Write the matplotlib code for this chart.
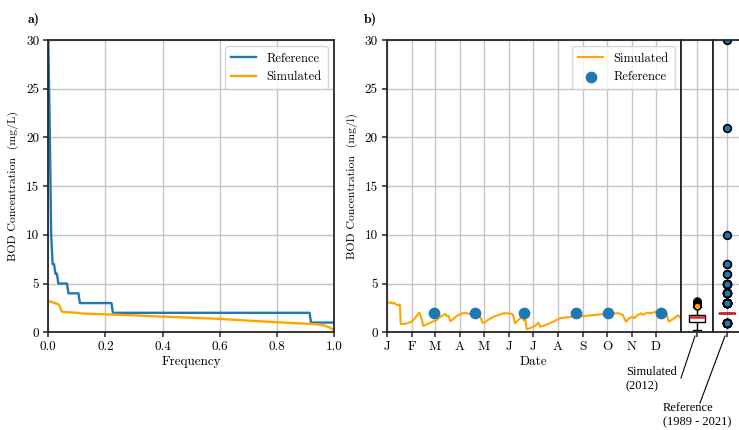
import numpy as np
import matplotlib
matplotlib.use('Agg')
from matplotlib import pyplot as plt

plt.rcParams['font.family'] = ['cmr10', 'DejaVu Serif']
plt.rcParams['mathtext.fontset'] = 'cm'
plt.rcParams['axes.formatter.use_mathtext'] = False

# observed BOD values 1989-2021 and how often each one occurs
ref_values = [30, 21, 10, 7, 6, 5, 4, 3, 2, 1]
ref_counts = [1, 1, 1, 2, 2, 7, 8, 23, 138, 17]

# simulated duration curve
sim_freq = [0.0, 0.018, 0.035, 0.041, 0.045, 0.053, 0.088, 0.123, 0.18, 0.30,
            0.41, 0.53, 0.60, 0.65, 0.76, 0.82, 0.88, 0.94, 0.968, 0.986, 1.0]
sim_sorted = [3.2, 3.05, 2.88, 2.64, 2.19, 2.08, 2.02, 1.92, 1.86, 1.74,
              1.6, 1.46, 1.38, 1.28, 1.1, 1.0, 0.92, 0.82, 0.68, 0.48, 0.22]

# simulated daily series 2012 (day of year, mg/l)
sim_day = [0, 3, 5, 6, 8, 10, 12, 14, 15.5, 16.5, 17.4, 21.5, 24, 27.7, 31, 34, 38, 40.5,
           42, 44, 45.5, 50.5, 56, 62, 67, 70, 73, 75, 77, 79, 82, 86, 90, 94, 99, 102.4,
           106.5, 109, 112, 114, 117, 119, 122, 126, 133, 140, 145, 150, 155.5, 157, 159.6,
           163.7, 168, 170, 172, 174, 178, 184.5, 188.6, 190.7, 194.8, 207, 215.5, 224, 235,
           256, 277, 289, 293.5, 297.6, 301.7, 306, 308, 312, 316.3, 318, 324.6, 328, 335,
           339, 343.3, 346, 348, 350.7, 355.7, 360, 362, 365.5]
sim_bod = [3.15, 3.05, 2.98, 3.1, 2.95, 3.0, 2.85, 2.75, 2.85, 2.8, 0.85, 0.85, 0.9, 0.99,
           1.1, 1.33, 1.78, 2.02, 1.7, 1.2, 0.65, 0.85, 1.05, 1.25, 1.6, 1.75, 1.88, 1.64,
           1.7, 1.15, 1.3, 1.6, 1.8, 1.95, 1.98, 1.88, 2.0, 1.85, 1.88, 1.8, 1.5, 0.99, 1.0,
           1.27, 1.6, 1.8, 1.95, 1.95, 1.9, 1.8, 0.92, 1.26, 1.6, 1.26, 1.44, 0.31, 0.41,
           0.65, 0.99, 0.58, 0.65, 1.09, 1.44, 1.54, 1.6, 1.75, 1.95, 1.95, 1.78, 1.09, 1.44,
           1.6, 1.45, 1.78, 1.95, 1.8, 2.02, 1.95, 2.12, 2.0, 2.12, 2.1, 1.9, 1.09, 1.33, 1.6,
           1.75, 1.5]

# reference samples taken in the year
ref_day = [59, 110, 171, 236, 275, 341]
ref_bod = [2.0, 2.0, 2.0, 2.0, 2.0, 2.0]

# box statistics of the simulated series (fliers listed top first)
sim_box = dict(med=1.6, q1=1.1, q3=1.78, whislo=0.25, whishi=2.55,
               fliers=[3.2, 3.16, 3.12, 3.08, 3.04, 3.0, 2.96, 2.92, 2.88, 2.84, 2.8, 2.72])

month_days = [0, 31, 60, 91, 121, 152, 182, 213, 244, 274, 305, 335]
month_labels = ['J', 'F', 'M', 'A', 'M', 'J', 'J', 'A', 'S', 'O', 'N', 'D']

BLUE = '#1f77b4'
ORANGE = '#ffa500'
SPINE = '#262626'
GRID = '#c4c4c4'
FS = 9.5
LFS = 9

W, H = 739, 430
fig = plt.figure(figsize=(W / 100, H / 100), dpi=100)


def px_axes(x0, x1, y_top, y_bot):
    return fig.add_axes([x0 / W, 1 - y_bot / H, (x1 - x0) / W, (y_bot - y_top) / H])


def style(ax):
    for s in ax.spines.values():
        s.set_color(SPINE)
        s.set_linewidth(1.3)
    ax.grid(True, color=GRID, linewidth=1.0)
    ax.set_axisbelow(True)
    ax.tick_params(labelsize=FS, length=3.5, width=1.1, color=SPINE, pad=3)


# ---- a) duration curves
ax1 = px_axes(48.3, 334, 40, 332.3)
style(ax1)
ref_all = np.repeat(ref_values, ref_counts)
ref_freq = np.arange(len(ref_all)) / (len(ref_all) - 1)
ax1.plot(ref_freq, ref_all, color=BLUE, lw=1.7, label='Reference')
ax1.plot(sim_freq, sim_sorted, color=ORANGE, lw=1.7, label='Simulated')
ax1.set_xlim(0, 1)
ax1.set_ylim(0, 30)
ax1.set_xticks(np.arange(0, 1.01, 0.2))
ax1.set_xticklabels([f'{v:.1f}' for v in np.arange(0, 1.01, 0.2)])
ax1.set_yticks(range(0, 31, 5))
ax1.set_xlabel('Frequency', fontsize=FS, labelpad=2)
ax1.set_ylabel('BOD Concentration  (mg/L)', fontsize=8.5, labelpad=5)
ax1.legend(loc='upper right', fontsize=LFS, handlelength=2.0, borderpad=0.5,
           labelspacing=0.5, handletextpad=0.8, framealpha=0.8)

# ---- b) time series
ax2 = px_axes(386.7, 681, 40, 332.3)
style(ax2)
ax2.plot(sim_day, sim_bod, color=ORANGE, lw=1.5, label='Simulated')
ax2.scatter(ref_day, ref_bod, s=55, color=BLUE, zorder=3, label='Reference')
ax2.set_xlim(0, 366)
ax2.set_ylim(0, 30)
ax2.set_xticks(month_days)
ax2.set_xticklabels(month_labels)
ax2.set_yticks(range(0, 31, 5))
ax2.set_xlabel('Date', fontsize=FS, labelpad=2)
ax2.set_ylabel('BOD Concentration  (mg/l)', fontsize=8.5, labelpad=5)
ax2.legend(loc='upper right', fontsize=LFS, handlelength=2.0, borderpad=0.5,
           labelspacing=0.5, handletextpad=0.8, framealpha=0.8)

# ---- box plots next to the time series
ax3 = px_axes(681, 713, 40, 332.3)
ax4 = px_axes(713, 741, 40, 332.3)
for ax in (ax3, ax4):
    style(ax)
    ax.set_ylim(0, 30)
    ax.set_yticks(range(0, 31, 5))
    ax.tick_params(axis='y', left=False, labelleft=False)

ax3.bxp([sim_box], widths=0.52, patch_artist=True,
        boxprops=dict(facecolor='white', edgecolor='black', linewidth=1.0),
        medianprops=dict(color='#d62728', linewidth=1.8),
        whiskerprops=dict(color='black', linewidth=1.0),
        capprops=dict(color='black', linewidth=1.0),
        flierprops=dict(marker='o', markerfacecolor=ORANGE, markeredgecolor='black',
                        markersize=5, markeredgewidth=1.1))

ax4.boxplot(ref_all, widths=0.55,
            medianprops=dict(color='#d62728', linewidth=1.8),
            boxprops=dict(color='black', linewidth=1.0),
            flierprops=dict(marker='o', markerfacecolor=BLUE, markeredgecolor='black',
                            markersize=5.5, markeredgewidth=1.2))
for ax in (ax3, ax4):
    ax.set_xlim(0.5, 1.5)
    ax.set_xticks([1])
    ax.set_xticklabels([''])

# annotations under the boxes
ann = dict(fontsize=9, family=['Liberation Serif', 'DejaVu Serif'])
fig.text(626 / W, 1 - 379 / H, 'Simulated\n(2012)', va='center', ha='left',
         linespacing=1.25, **ann)
fig.text(663 / W, 1 - 415 / H, 'Reference\n(1989 - 2021)', va='center', ha='left',
         linespacing=1.25, **ann)
fig.add_artist(plt.Line2D([681 / W, 695 / W], [1 - 378 / H, 1 - 336 / H],
                          color='black', lw=0.8))
fig.add_artist(plt.Line2D([700 / W, 725 / W], [1 - 403 / H, 1 - 336 / H],
                          color='black', lw=0.8))

# panel letters
fig.text(28 / W, 1 - 20 / H, 'a)', fontsize=10, va='center', family=['cmb10', 'DejaVu Serif'])
fig.text(364 / W, 1 - 20 / H, 'b)', fontsize=10, va='center', family=['cmb10', 'DejaVu Serif'])

fig.savefig('out.png', dpi=100)
